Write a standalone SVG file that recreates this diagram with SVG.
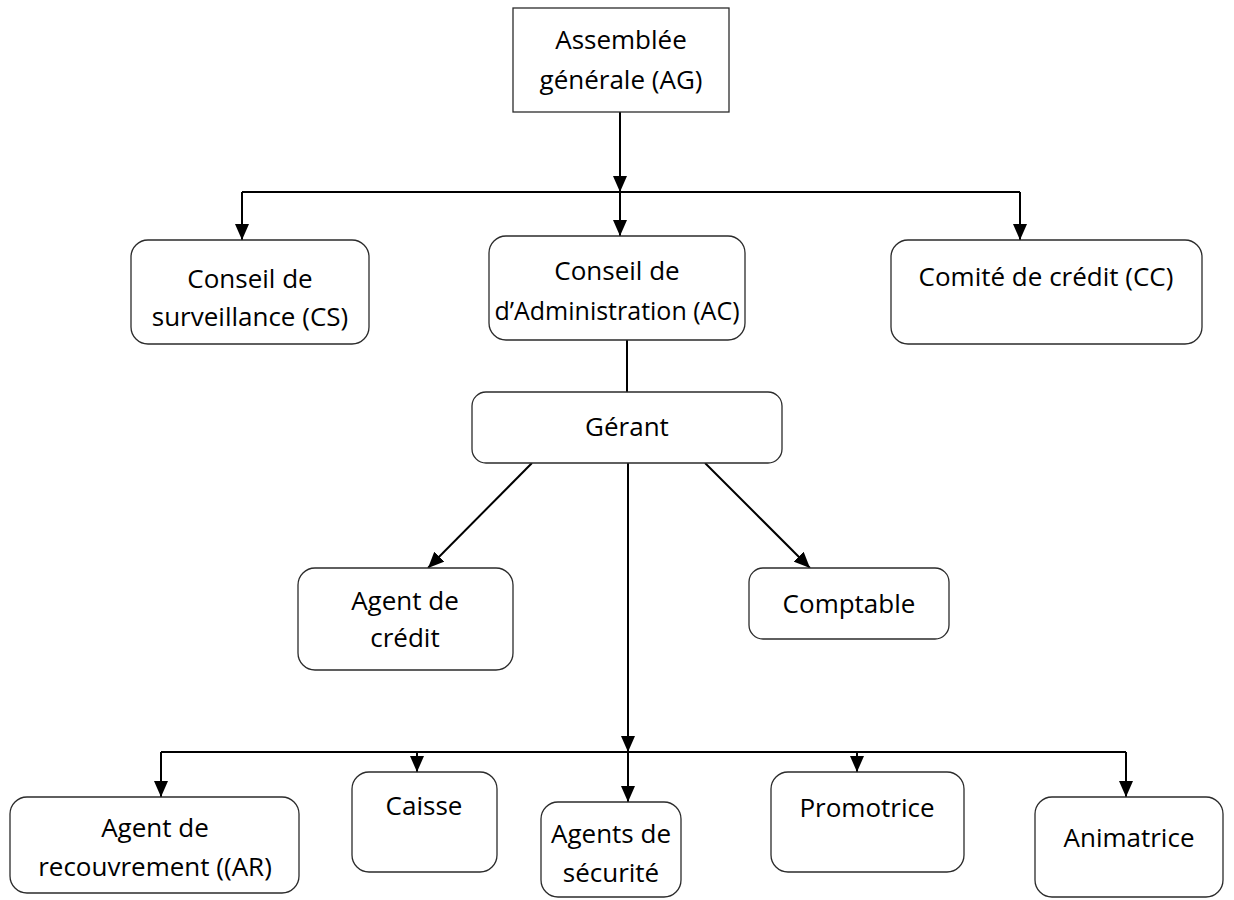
<svg xmlns="http://www.w3.org/2000/svg" width="1234" height="900" viewBox="0 0 1234 900">
<style>
.box{fill:#fff;stroke:#2b2b2b;stroke-width:1.3}
.t{font-family:"Open Sans","Liberation Sans",sans-serif;font-size:26px;fill:#000;text-anchor:middle}
.c{fill:none;stroke:#000;stroke-width:2}
</style>
<defs>
<marker id="ah" markerUnits="userSpaceOnUse" viewBox="0 0 16 14" refX="16" refY="7" markerWidth="16" markerHeight="14" orient="auto">
<path d="M0,0 L16,7 L0,14 Z" fill="#000"/>
</marker>
</defs>
<rect width="1234" height="900" fill="#fff"/>
<g id="connectors">
<line class="c" x1="620" y1="112" x2="620" y2="192" marker-end="url(#ah)"/>
<line class="c" x1="242" y1="192" x2="1020" y2="192"/>
<line class="c" x1="242" y1="192" x2="242" y2="240" marker-end="url(#ah)"/>
<line class="c" x1="620" y1="192" x2="620" y2="236" marker-end="url(#ah)"/>
<line class="c" x1="1020" y1="192" x2="1020" y2="240" marker-end="url(#ah)"/>
<line class="c" x1="627" y1="340" x2="627" y2="392"/>
<line class="c" x1="532" y1="463" x2="428" y2="568" marker-end="url(#ah)"/>
<line class="c" x1="705" y1="463" x2="810" y2="568" marker-end="url(#ah)"/>
<line class="c" x1="628" y1="463" x2="628" y2="752" marker-end="url(#ah)"/>
<line class="c" x1="161" y1="752" x2="1126" y2="752"/>
<line class="c" x1="161" y1="752" x2="161" y2="797" marker-end="url(#ah)"/>
<line class="c" x1="417" y1="752" x2="417" y2="772" marker-end="url(#ah)"/>
<line class="c" x1="628" y1="752" x2="628" y2="802" marker-end="url(#ah)"/>
<line class="c" x1="857" y1="752" x2="857" y2="772" marker-end="url(#ah)"/>
<line class="c" x1="1126" y1="752" x2="1126" y2="797" marker-end="url(#ah)"/>
</g>
<g id="ag">
<rect class="box" x="513" y="8" width="216" height="104"/>
<text class="t" x="621" y="49">Assemblée</text>
<text class="t" x="621" y="89">générale (AG)</text>
</g>
<g id="cs">
<rect class="box" x="131" y="240" width="238" height="104" rx="17"/>
<text class="t" x="250" y="288">Conseil de</text>
<text class="t" x="250" y="326">surveillance (CS)</text>
</g>
<g id="ca">
<rect class="box" x="489" y="236" width="256" height="104" rx="17"/>
<text class="t" x="617" y="280">Conseil de</text>
<text class="t" x="617" y="320" style="font-size:25px">d’Administration (AC)</text>
</g>
<g id="cc">
<rect class="box" x="891" y="240" width="311" height="104" rx="17"/>
<text class="t" x="1046" y="286">Comité de crédit (CC)</text>
</g>
<g id="gerant">
<rect class="box" x="472" y="392" width="310" height="71" rx="14"/>
<text class="t" x="627" y="436">Gérant</text>
</g>
<g id="agent-credit">
<rect class="box" x="298" y="568" width="215" height="102" rx="17"/>
<text class="t" x="405" y="610">Agent de</text>
<text class="t" x="405" y="647">crédit</text>
</g>
<g id="comptable">
<rect class="box" x="749" y="568" width="200" height="71" rx="14"/>
<text class="t" x="849" y="613">Comptable</text>
</g>
<g id="ar">
<rect class="box" x="10" y="797" width="289" height="96" rx="17"/>
<text class="t" x="155" y="837">Agent de</text>
<text class="t" x="155" y="876">recouvrement ((AR)</text>
</g>
<g id="caisse">
<rect class="box" x="352" y="772" width="145" height="100" rx="17"/>
<text class="t" x="424" y="815">Caisse</text>
</g>
<g id="securite">
<rect class="box" x="541" y="802" width="140" height="95" rx="17"/>
<text class="t" x="611" y="843">Agents de</text>
<text class="t" x="611" y="882">sécurité</text>
</g>
<g id="promotrice">
<rect class="box" x="771" y="772" width="193" height="100" rx="17"/>
<text class="t" x="867" y="817">Promotrice</text>
</g>
<g id="animatrice">
<rect class="box" x="1035" y="797" width="188" height="100" rx="17"/>
<text class="t" x="1129" y="847">Animatrice</text>
</g>
</svg>
